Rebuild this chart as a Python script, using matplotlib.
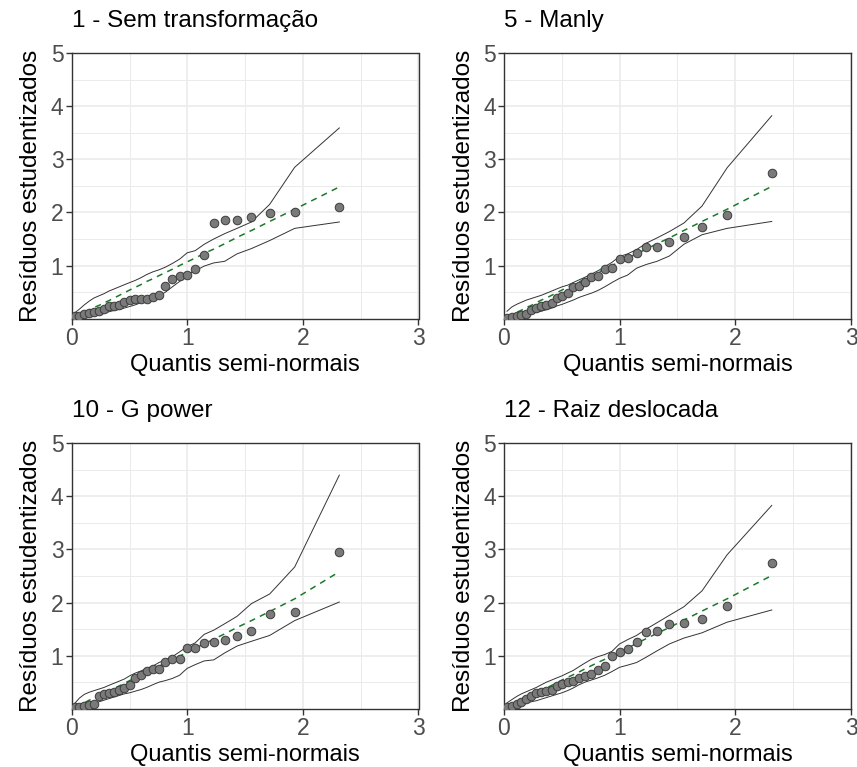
import numpy as np
import matplotlib
matplotlib.use("Agg")
import matplotlib.pyplot as plt
from matplotlib.ticker import FixedLocator

plt.rcParams["font.family"] = ["Liberation Sans", "DejaVu Sans"]

# ---------------- Data ----------------

# half-normal quantiles, 30 observations
quantis = [0.026, 0.067, 0.109, 0.151, 0.193, 0.236, 0.279, 0.322, 0.367, 0.412,
           0.456, 0.502, 0.549, 0.598, 0.648, 0.700, 0.755, 0.811, 0.871, 0.933,
           0.999, 1.068, 1.146, 1.229, 1.323, 1.430, 1.555, 1.712, 1.929, 2.315]

titulos = ["1 - Sem transformação", "5 - Manly", "10 - G power", "12 - Raiz deslocada"]

res_1 = [0.05, 0.06, 0.09, 0.11, 0.13, 0.15, 0.19, 0.23, 0.245, 0.26,
         0.31, 0.35, 0.38, 0.38, 0.38, 0.40, 0.45, 0.62, 0.75, 0.81,
         0.83, 0.93, 1.20, 1.80, 1.86, 1.86, 1.92, 1.98, 2.00, 2.10]
sup_1 = [0.11, 0.18, 0.26, 0.33, 0.39, 0.43, 0.47, 0.52, 0.56, 0.60,
         0.64, 0.68, 0.72, 0.77, 0.83, 0.88, 0.92, 0.97, 1.04, 1.12,
         1.24, 1.28, 1.40, 1.50, 1.60, 1.70, 1.82, 2.15, 2.85, 3.59]
inf_1 = [0.01, 0.02, 0.04, 0.055, 0.07, 0.09, 0.11, 0.13, 0.155, 0.175,
         0.20, 0.23, 0.26, 0.30, 0.34, 0.38, 0.43, 0.50, 0.60, 0.70,
         0.83, 0.90, 0.99, 1.05, 1.08, 1.22, 1.32, 1.47, 1.70, 1.82]
med_1 = [0.03, 0.07, 0.12, 0.16, 0.21, 0.25, 0.30, 0.34, 0.39, 0.44,
         0.49, 0.54, 0.59, 0.64, 0.70, 0.75, 0.81, 0.87, 0.93, 1.00,
         1.07, 1.14, 1.23, 1.31, 1.41, 1.53, 1.66, 1.83, 2.06, 2.48]

res_2 = [0.02, 0.04, 0.06, 0.07, 0.09, 0.17, 0.21, 0.24, 0.26, 0.29,
         0.39, 0.43, 0.48, 0.60, 0.61, 0.69, 0.79, 0.80, 0.94, 0.96,
         1.12, 1.14, 1.23, 1.34, 1.35, 1.44, 1.53, 1.72, 1.96, 2.74]
sup_2 = [0.14, 0.22, 0.27, 0.31, 0.35, 0.38, 0.41, 0.44, 0.48, 0.52,
         0.56, 0.60, 0.63, 0.68, 0.73, 0.78, 0.84, 0.90, 0.98, 1.06,
         1.17, 1.22, 1.30, 1.42, 1.52, 1.64, 1.80, 2.12, 2.84, 3.82]
inf_2 = [0.00, 0.02, 0.04, 0.06, 0.08, 0.10, 0.12, 0.14, 0.17, 0.20,
         0.24, 0.27, 0.31, 0.35, 0.40, 0.44, 0.48, 0.53, 0.60, 0.68,
         0.76, 0.82, 0.95, 1.02, 1.08, 1.18, 1.40, 1.58, 1.70, 1.83]
med_2 = [0.03, 0.07, 0.12, 0.16, 0.21, 0.25, 0.30, 0.35, 0.39, 0.44,
         0.49, 0.54, 0.59, 0.64, 0.69, 0.75, 0.81, 0.87, 0.93, 1.00,
         1.07, 1.14, 1.22, 1.31, 1.41, 1.52, 1.66, 1.83, 2.06, 2.49]

res_3 = [0.025, 0.04, 0.05, 0.07, 0.09, 0.23, 0.28, 0.29, 0.31, 0.36,
         0.39, 0.44, 0.58, 0.63, 0.71, 0.74, 0.75, 0.88, 0.94, 0.94,
         1.14, 1.14, 1.24, 1.26, 1.30, 1.37, 1.46, 1.78, 1.83, 2.95]
sup_3 = [0.10, 0.20, 0.27, 0.31, 0.34, 0.37, 0.40, 0.44, 0.48, 0.52,
         0.56, 0.62, 0.67, 0.71, 0.76, 0.80, 0.87, 0.92, 0.98, 1.07,
         1.17, 1.24, 1.40, 1.48, 1.60, 1.74, 1.98, 2.16, 2.67, 4.40]
inf_3 = [0.00, 0.02, 0.05, 0.08, 0.10, 0.13, 0.16, 0.19, 0.22, 0.25,
         0.28, 0.30, 0.33, 0.36, 0.40, 0.45, 0.50, 0.53, 0.57, 0.63,
         0.76, 0.83, 0.90, 0.92, 1.05, 1.18, 1.27, 1.38, 1.66, 2.01]
med_3 = [0.03, 0.07, 0.11, 0.16, 0.20, 0.25, 0.29, 0.34, 0.38, 0.43,
         0.48, 0.53, 0.58, 0.63, 0.68, 0.74, 0.80, 0.86, 0.92, 0.99,
         1.06, 1.14, 1.22, 1.31, 1.41, 1.53, 1.66, 1.83, 2.07, 2.58]

res_4 = [0.03, 0.05, 0.09, 0.13, 0.19, 0.23, 0.29, 0.31, 0.33, 0.35,
         0.42, 0.47, 0.50, 0.53, 0.57, 0.62, 0.66, 0.73, 0.81, 0.99,
         1.06, 1.13, 1.26, 1.44, 1.47, 1.60, 1.62, 1.69, 1.93, 2.74]
sup_4 = [0.11, 0.17, 0.23, 0.28, 0.32, 0.36, 0.40, 0.45, 0.50, 0.54,
         0.58, 0.62, 0.67, 0.72, 0.79, 0.86, 0.93, 0.98, 1.02, 1.08,
         1.22, 1.30, 1.38, 1.50, 1.62, 1.76, 1.92, 2.22, 2.90, 3.83]
inf_4 = [0.00, 0.03, 0.05, 0.08, 0.10, 0.13, 0.15, 0.18, 0.21, 0.24,
         0.27, 0.30, 0.34, 0.39, 0.45, 0.50, 0.54, 0.58, 0.63, 0.70,
         0.78, 0.82, 0.87, 0.97, 1.09, 1.22, 1.33, 1.43, 1.63, 1.86]
med_4 = [0.03, 0.07, 0.12, 0.16, 0.21, 0.25, 0.30, 0.34, 0.39, 0.44,
         0.49, 0.54, 0.59, 0.64, 0.69, 0.75, 0.81, 0.87, 0.93, 1.00,
         1.07, 1.14, 1.23, 1.32, 1.42, 1.53, 1.67, 1.84, 2.07, 2.51]

residuos = [res_1, res_2, res_3, res_4]
superior = [sup_1, sup_2, sup_3, sup_4]
inferior = [inf_1, inf_2, inf_3, inf_4]
mediana = [med_1, med_2, med_3, med_4]

# ---------------- Figure ----------------

W, H = 857, 767
fig = plt.figure(figsize=(W / 100, H / 100), dpi=100)

# panel boxes in pixels: left, top, right, bottom
boxes = [(71.7, 53, 418.5, 318.7), (504, 53, 851, 318.7),
         (71.7, 443.3, 418.5, 708.7), (504, 443.3, 851, 708.7)]

for k in range(4):
    l, t, r, b = boxes[k]
    ax = fig.add_axes([l / W, 1 - b / H, (r - l) / W, (b - t) / H])

    ax.plot(quantis, superior[k], color="#333333", lw=0.7)
    ax.plot(quantis, inferior[k], color="#333333", lw=0.7)
    ax.plot(quantis, mediana[k], color="#1a7a2a", lw=1.1, ls=(0, (4, 3.5)))
    ax.scatter(quantis, residuos[k], s=38, facecolor="#7a7a7a",
               edgecolor="#3c3c3c", linewidth=0.7, zorder=3)

    ax.set_xlim(0, 3)
    ax.set_ylim(0, 5)
    ax.xaxis.set_major_locator(FixedLocator([0, 1, 2, 3]))
    ax.xaxis.set_minor_locator(FixedLocator([0.5, 1.5, 2.5]))
    ax.yaxis.set_major_locator(FixedLocator([1, 2, 3, 4, 5]))
    ax.yaxis.set_minor_locator(FixedLocator([0.5, 1.5, 2.5, 3.5, 4.5]))
    ax.grid(which="major", color="#ebebeb", lw=1.2)
    ax.grid(which="minor", color="#ebebeb", lw=0.7)
    ax.set_axisbelow(True)
    ax.tick_params(which="major", length=4, width=1, color="#333333",
                   labelsize=16.5, labelcolor="#4d4d4d", pad=2)
    ax.tick_params(which="minor", length=0)
    for s in ax.spines.values():
        s.set_color("#333333")
        s.set_linewidth(1.0)

    ax.set_xlabel("Quantis semi-normais", fontsize=17, labelpad=3)
    ax.set_ylabel("Resíduos estudentizados", fontsize=17.5, labelpad=6)
    ax.set_title(titulos[k], loc="left", fontsize=17.5, pad=19)

fig.savefig("out.png", dpi=100)
